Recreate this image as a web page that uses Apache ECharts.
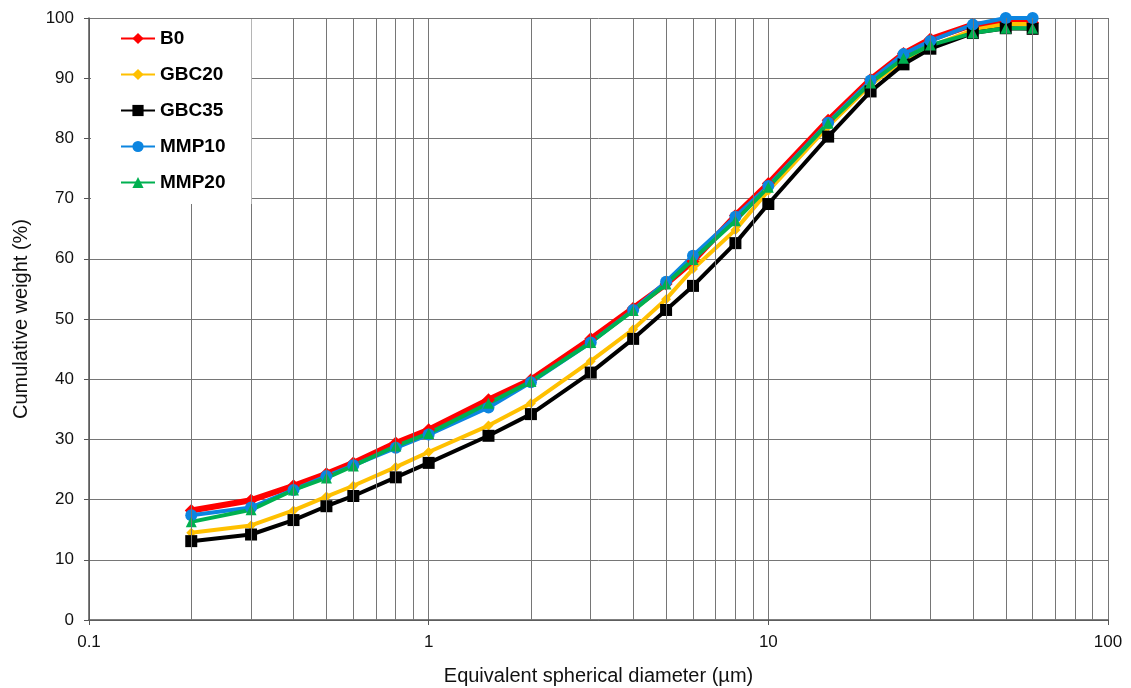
<!DOCTYPE html>
<html>
<head>
<meta charset="utf-8">
<script src="https://cdn.jsdelivr.net/npm/echarts@6/dist/echarts.min.js"></script>
<style>
  html, body { margin: 0; padding: 0; background: #fff; }
  #chart { width: 1131px; height: 688px; }
</style>
</head>
<body>
<div id="chart"></div>
<script>
// particle size (µm)
const diameters = [0.2, 0.3, 0.4, 0.5, 0.6, 0.8, 1, 1.5, 2, 3, 4, 5, 6, 8, 10, 15, 20, 25, 30, 40, 50, 60];

const b0    = [18.2, 19.9, 22.3, 24.3, 26.1, 29.4, 31.6, 36.6, 39.9, 46.7, 51.8, 55.8, 59.6, 67.2, 72.5, 83.0, 89.8, 94.1, 96.5, 98.9, 99.2, 99.2];
const gbc20 = [14.5, 15.7, 18.2, 20.5, 22.3, 25.4, 27.9, 32.3, 36.0, 43.0, 48.3, 53.3, 58.3, 64.8, 71.3, 82.0, 88.9, 93.0, 95.3, 98.0, 99.0, 99.0];
const gbc35 = [13.1, 14.2, 16.6, 18.9, 20.6, 23.7, 26.1, 30.6, 34.2, 41.1, 46.7, 51.5, 55.5, 62.6, 69.1, 80.3, 87.8, 92.3, 94.9, 97.5, 98.3, 98.2];
const mmp10 = [17.4, 18.7, 21.6, 23.9, 25.7, 28.6, 30.8, 35.3, 39.5, 46.1, 51.5, 56.2, 60.5, 67.0, 72.1, 82.6, 89.6, 94.0, 96.2, 98.9, 100, 100];
const mmp20 = [16.3, 18.3, 21.6, 23.6, 25.6, 28.9, 31.0, 36.0, 39.6, 46.1, 51.4, 55.8, 59.9, 66.3, 71.9, 82.5, 89.2, 93.3, 95.5, 97.5, 98.3, 98.3];

// minor log gridlines
const minorTicks = [0.2, 0.3, 0.4, 0.5, 0.6, 0.7, 0.8, 0.9, 2, 3, 4, 5, 6, 7, 8, 9, 20, 30, 40, 50, 60, 70, 80, 90];

const pairs = (ys) => diameters.map((x, i) => [x, ys[i]]);

const chart = echarts.init(document.getElementById("chart"), null, { renderer: "canvas" });

const font = "'Liberation Sans', Arial, sans-serif";
const gridColor = "#767676";

const mkSeries = (name, ys, color, symbol, size, width) => ({
  name,
  type: "line",
  data: pairs(ys),
  symbol,
  symbolSize: size,
  clip: false,
  lineStyle: { color, width },
  itemStyle: { color },
  z: 3,
});

chart.setOption({
  animation: false,
  backgroundColor: "#fff",
  grid: { left: 89, right: 23, top: 18, bottom: 68, outerBoundsMode: "none" },
  xAxis: {
    type: "log",
    logBase: 10,
    min: 0.1,
    max: 100,
    name: "Equivalent spherical diameter (µm)",
    nameLocation: "middle",
    nameGap: 46,
    nameTextStyle: { fontFamily: font, fontSize: 20, color: "#111" },
    axisLine: { lineStyle: { color: "#555", width: 1.5 } },
    axisTick: { show: true, length: 5, lineStyle: { color: "#555" } },
    axisLabel: { fontFamily: font, fontSize: 17, color: "#111", margin: 14 },
    splitLine: { show: true, lineStyle: { color: gridColor, width: 1 } },
  },
  yAxis: {
    type: "value",
    min: 0,
    max: 100,
    interval: 10,
    name: "Cumulative weight (%)",
    nameLocation: "middle",
    nameGap: 58,
    nameTextStyle: { fontFamily: font, fontSize: 20, color: "#111" },
    axisLine: { show: true, lineStyle: { color: "#555", width: 1.5 } },
    axisTick: { show: true, length: 5, lineStyle: { color: "#555" } },
    axisLabel: { fontFamily: font, fontSize: 17, color: "#111", margin: 15 },
    splitLine: { show: true, lineStyle: { color: gridColor, width: 1 } },
  },
  legend: {
    orient: "vertical",
    left: 91,
    top: 19,
    padding: [10, 26, 12, 29],
    backgroundColor: "#fff",
    itemWidth: 34,
    itemHeight: 14,
    itemGap: 17,
    itemTextGap: 3,
    textStyle: { fontFamily: font, fontSize: 19, fontWeight: "bold", color: "#000" },
    data: ["B0", "GBC20", "GBC35", "MMP10", "MMP20"],
    z: 10,
  },
  series: [
    {
      type: "line",
      data: [],
      silent: true,
      z: 1,
      markLine: {
        silent: true,
        symbol: "none",
        label: { show: false },
        lineStyle: { color: gridColor, width: 1, type: "solid" },
        data: minorTicks.map((v) => ({ xAxis: v })),
      },
    },
    mkSeries("B0", b0, "#ff0000", "diamond", 13, 6),
    mkSeries("GBC20", gbc20, "#ffc000", "diamond", 10, 4),
    mkSeries("GBC35", gbc35, "#000000", "rect", 12, 4),
    mkSeries("MMP10", mmp10, "#0c85e0", "circle", 12, 4),
    mkSeries("MMP20", mmp20, "#00b050", "triangle", 11, 4),
  ],
});
</script>
</body>
</html>
